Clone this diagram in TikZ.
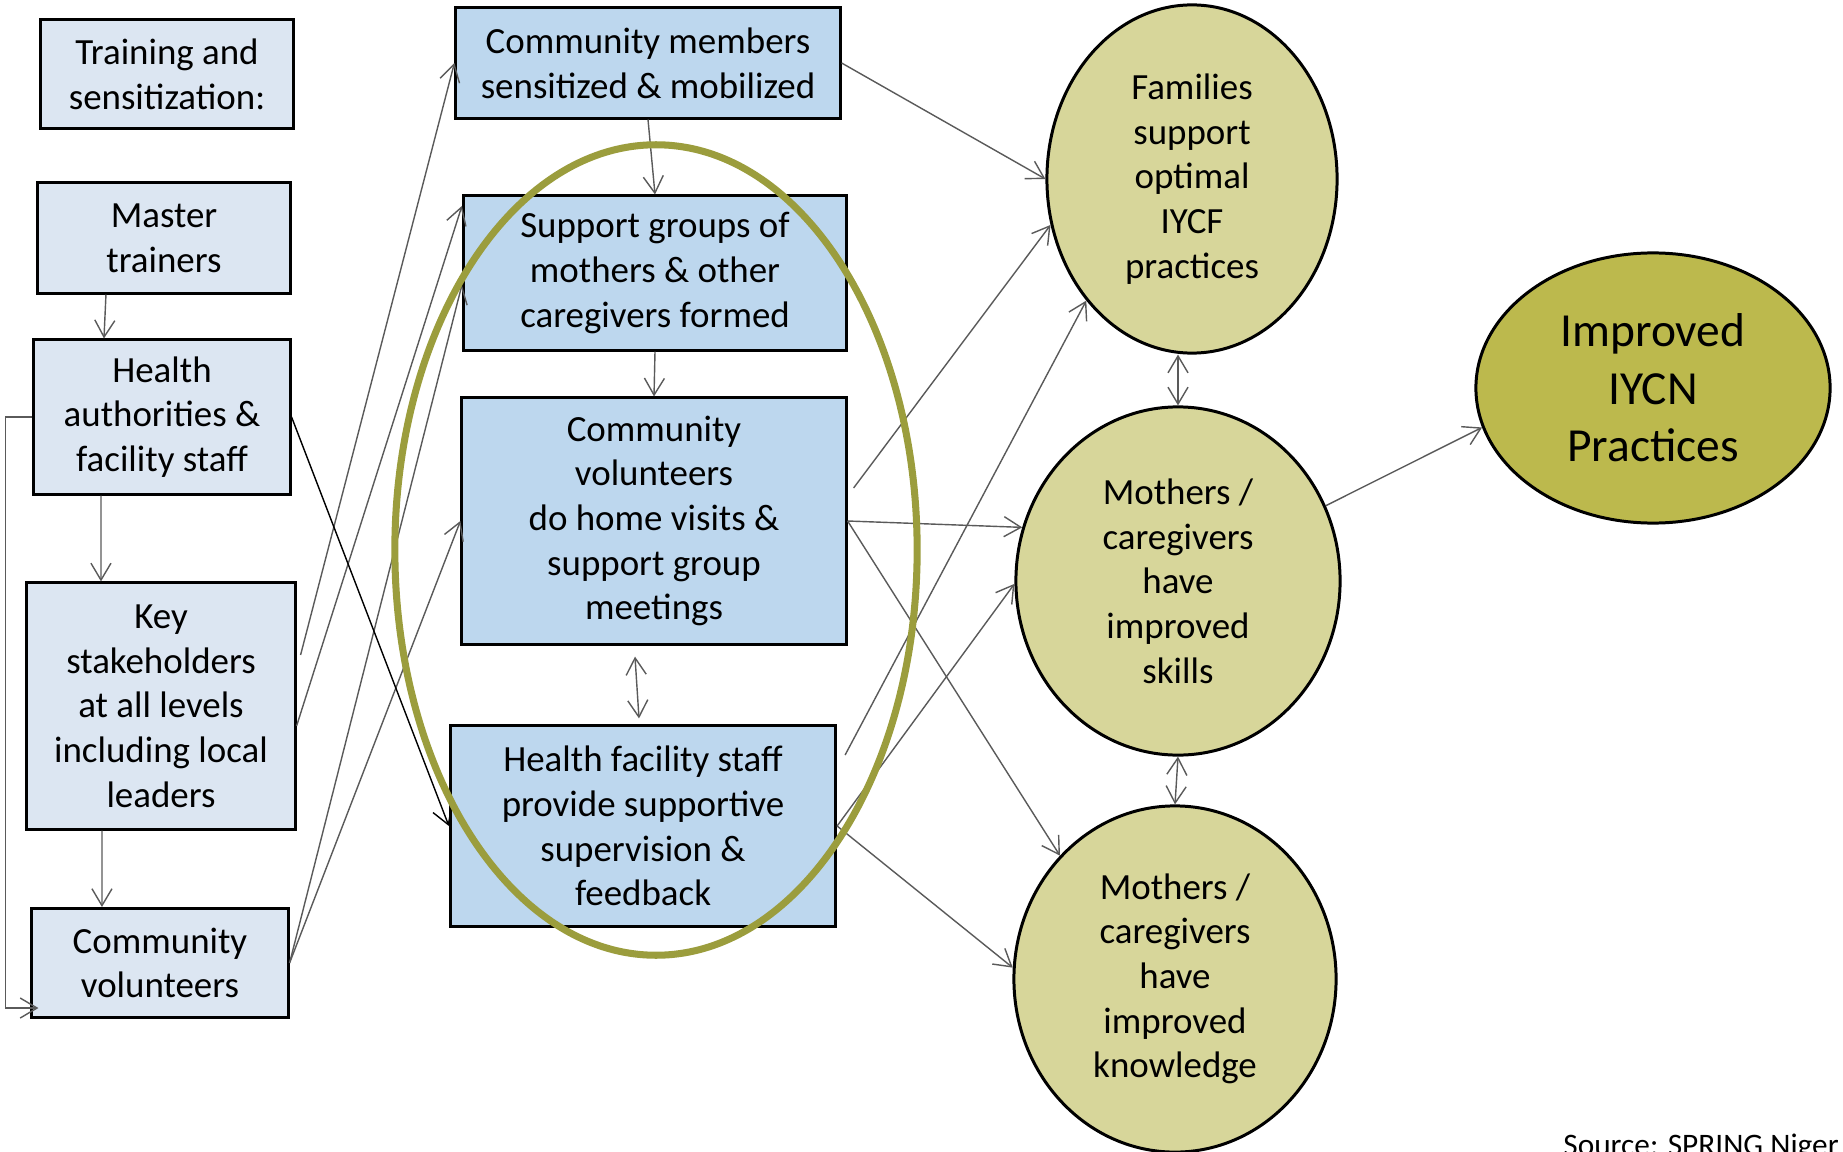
\documentclass[tikz,border=0pt]{standalone}
\usepackage{fontspec}
\setmainfont{Carlito}
\usetikzlibrary{shapes.geometric,arrows.meta}
\definecolor{inputblue}{HTML}{DCE6F2}
\definecolor{stepblue}{HTML}{BDD7EE}
\definecolor{outcomegreen}{HTML}{D7D69A}
\definecolor{impactgreen}{HTML}{BCB94D}
\definecolor{ringgreen}{HTML}{9B9D3D}
\definecolor{linegray}{HTML}{5A5A5A}

\begin{document}
\begin{tikzpicture}[x=0.01cm,y=-0.01cm,
    >={Straight Barb[length=4.8pt,width=5.7pt]},
    inbox/.style={fill=inputblue,draw,line width=0.85pt,align=center,inner sep=0pt,
      font=\fontsize{10.5}{12.7}\selectfont},
    midbox/.style={inbox,fill=stepblue},
    outc/.style={ellipse,fill=outcomegreen,draw,line width=0.85pt,align=center,inner sep=0pt,
      font=\fontsize{10.5}{12.7}\selectfont},
    conn/.style={draw=linegray,line width=0.4pt,->},
    dconn/.style={conn,<->}]
  \useasboundingbox (0,0) rectangle (1843,1152);
  \clip (0,0) rectangle (1843,1152);
  % inputs
  \draw
    (167,74) node[inbox,minimum width=25.3mm,minimum height=10.9mm] (train){Training and\\sensitization:}
    (164,238) node[inbox,minimum width=25.2mm,minimum height=11mm] (master){Master\\trainers}
    (162,417) node[inbox,minimum width=25.6mm,minimum height=15.4mm] (hauth){Health\\authorities \&\\facility staff}
    (161,706) node[inbox,minimum width=26.8mm,minimum height=24.6mm] (keys){Key\\stakeholders\\at all levels\\including local\\leaders}
    (160,963) node[inbox,minimum width=25.6mm,minimum height=10.9mm] (cvol){Community\\volunteers};
  % activities
  \draw
    (648,63) node[midbox,minimum width=38.4mm,minimum height=11mm] (cmem){Community members\\sensitized \& mobilized}
    (655,273) node[midbox,minimum width=38.3mm,minimum height=15.4mm] (sgroup){Support groups of\\mothers \& other\\caregivers formed}
    (654,521) node[midbox,minimum width=38.4mm,minimum height=24.6mm] (hvisit){Community\\volunteers\\do home visits \&\\support group\\meetings}
    (643,826) node[midbox,minimum width=38.5mm,minimum height=20mm] (hfs){Health facility staff\\provide supportive\\supervision \&\\feedback};
  % outcomes
  \draw
    (1192,179) node[outc,minimum width=29mm,minimum height=34.8mm] (fam){Families\\support\\optimal\\IYCF\\practices}
    (1178,581) node[outc,minimum width=32.4mm,minimum height=34.8mm] (skill){Mothers /\\caregivers\\have\\improved\\skills}
    (1175,979) node[outc,minimum width=32.2mm,minimum height=34.6mm] (know){Mothers /\\caregivers\\have\\improved\\knowledge}
    (1653,388) node[outc,fill=impactgreen,minimum width=35.4mm,minimum height=27mm,
      font=\fontsize{13.5}{16.4}\selectfont] (iycn){Improved\\IYCN\\Practices}
    (1551,1155) node[anchor=base west,font=\fontsize{8.9}{10}\selectfont] (src){Source: SPRING Niger};
  \begin{scope}[conn]
    \draw ([xshift=-5.8mm]master.south) to ([xshift=-5.8mm]hauth.north);
    \draw ([xshift=-6.1mm]hauth.south) to ([xshift=-6mm]keys.north);
    \draw ([xshift=-5.9mm]keys.south) to ([xshift=-5.8mm]cvol.north);
    \draw (hauth.west) -- ++(-2.7mm,0) |- ([xshift=0.8mm,yshift=1.1mm]cvol.south west);
    \draw ([xshift=0.4mm,yshift=5.1mm]keys.east) to (cmem.west);
    \draw ([yshift=-2mm]keys.east) to ([yshift=6.7mm]sgroup.west);
    \draw (cvol.east) to ([yshift=-1.2mm]sgroup.west);
    \draw (cvol.east) to (hvisit.west);
    \draw[draw=black] (hauth.east) to (hfs.west);
    \draw (cmem.south) to (sgroup.north);
    \draw (sgroup.south) to (hvisit.north);
    \draw[dconn] ([xshift=-1.9mm,yshift=-1.1mm]hvisit.south) to ([xshift=-0.4mm,yshift=0.6mm]hfs.north);
    \draw (cmem.east) to (fam.west);
    \draw ([xshift=0.6mm,yshift=3.3mm]hvisit.east) to (fam.198);
    \draw (hvisit.east) to (skill.161);
    \draw (hvisit.east) to (know.133);
    \draw ([xshift=0.8mm,yshift=7.1mm]hfs.east) to (fam.229);
    \draw (hfs.east) to (skill.181);
    \draw (hfs.east) to (know.176);
    \draw[dconn] (skill.north |- fam.south) to (skill.north);
    \draw[dconn] (skill.south) to (know.north);
    \draw (skill.27) to (iycn.193);
  \end{scope}
  % ring round the community level
  \draw[ringgreen,line width=2pt] (656,550) ellipse [x radius=26.1mm,y radius=40.5mm];
\end{tikzpicture}
\end{document}
